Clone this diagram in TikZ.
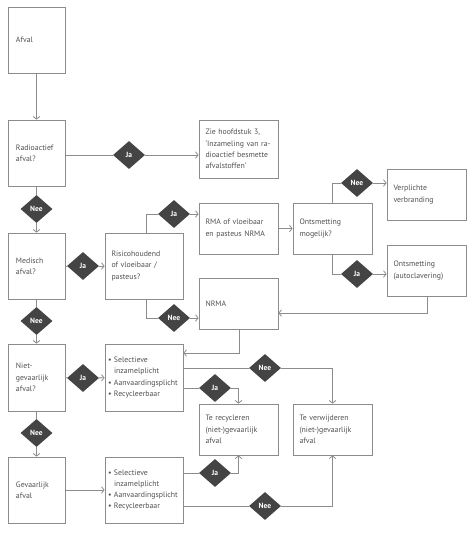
\documentclass[tikz,border=0pt]{standalone}
\usepackage{fontspec}
\setmainfont{PT Sans}
\usetikzlibrary{arrows.meta,shapes.geometric,calc}
\definecolor{txt}{HTML}{505050}
\definecolor{ln}{HTML}{8C8C8C}
\definecolor{dia}{HTML}{444444}
\tikzset{
  box/.style={draw=ln, line width=0.8pt, rectangle, inner xsep=8pt, inner ysep=0pt,
    align=left, text=txt, font=\fontsize{7.8}{11.3}\selectfont, anchor=center},
  sbox/.style={box, minimum width=57pt, text width=41pt},
  wbox/.style={box, minimum width=79pt, text width=66pt, inner xsep=6.5pt},
  lbox/.style={box, minimum width=78pt, text width=72pt, inner xsep=3pt},
  dec/.style={diamond, fill=dia, draw=none, minimum width=32pt, minimum height=28pt,
    inner sep=0pt, text=white, font=\fontsize{7.5}{9}\selectfont\bfseries},
  conn/.style={draw=ln, line width=0.8pt},
  arr/.style={conn, -{Straight Barb[length=2.6pt,width=6.5pt,line width=0.8pt]}},
}
\newcommand{\bl}{\makebox[6pt][l]{•}}
\begin{document}
\begin{tikzpicture}[x=1pt,y=-1pt]
\useasboundingbox (0,0) rectangle (474,533);
% boxes
\node[sbox, minimum height=66pt] (afval) at (36.5,40) {Afval};
\node[sbox, minimum height=66pt] (radio) at (36.5,153) {Radioactief\\afval?};
\node[wbox, minimum height=58pt] (zie) at (238.5,149) {Zie hoofdstuk 3,\\‘Inzameling van ra-\\dioactief besmette\\afvalstoffen’};
\node[sbox, minimum height=66pt] (med) at (36.5,266) {Medisch\\afval?};
\node[wbox, minimum width=78pt, text width=65pt, minimum height=66pt] (risico) at (144,266) {Risicohoudend\\of vloeibaar /\\pasteus?};
\node[wbox, minimum height=51pt] (rma) at (238.5,228.5) {RMA of vloeibaar\\en pasteus NRMA};
\node[wbox, minimum height=51pt] (ont) at (332.5,228.5) {Ontsmetting\\mogelijk?};
\node[wbox, minimum height=51pt] (verpl) at (426.5,194.5) {Verplichte\\verbranding};
\node[wbox, minimum height=51pt] (auto) at (426.5,270.5) {Ontsmetting\\(autoclavering)};
\node[wbox, minimum height=51pt] (nrma) at (238.5,303.5) {NRMA};
\node[sbox, minimum height=67pt] (niet) at (36.5,377.5) {Niet-\\gevaarlijk\\afval?};
\node[lbox, minimum height=67pt] (sel1) at (144,377.5) {\bl Selectieve\\\hspace*{6pt}inzamelplicht\\\bl Aanvaardingsplicht\\\bl Recycleerbaar};
\node[wbox, minimum height=51pt] (recyc) at (238.5,429.5) {Te recycleren\\(niet-)gevaarlijk\\afval};
\node[wbox, minimum height=51pt] (verw) at (332.5,429.5) {Te verwijderen\\(niet-)gevaarlijk\\afval};
\node[sbox, minimum height=66pt] (gev) at (36.5,490) {Gevaarlijk\\afval};
\node[lbox, minimum height=66pt] (sel2) at (144,490) {\bl Selectieve\\\hspace*{6pt}inzamelplicht\\\bl Aanvaardingsplicht\\\bl Recycleerbaar};
% decisions
\node[dec] (d1) at (129,155) {Ja};
\node[dec] (d2) at (36.5,209) {Nee};
\node[dec] (d3) at (83,266) {Ja};
\node[dec] (d4) at (174,214) {Ja};
\node[dec] (d5) at (174,318) {Nee};
\node[dec] (d6) at (357,183) {Nee};
\node[dec] (d7) at (357,274) {Ja};
\node[dec] (d8) at (36.5,321) {Nee};
\node[dec] (d14) at (83,378) {Ja};
\node[dec] (d9) at (265,368) {Nee};
\node[dec] (d10) at (215,388) {Ja};
\node[dec] (d11) at (36.5,433) {Nee};
\node[dec] (d12) at (215,473) {Ja};
\node[dec] (d13) at (265,506) {Nee};
% connectors
\draw[arr] (afval) -- (radio);
\draw[conn] (radio.east |- d1) -- (d1);
\draw[arr] (d1) -- (zie.west |- d1);
\draw[conn] (radio) -- (d2);
\draw[arr] (d2) -- (med);
\draw[conn] (med) -- (d3);
\draw[arr] (d3) -- (risico);
\draw[conn] ($(risico.north)+(2,0)$) |- (d4);
\draw[arr] (d4) -- (rma.west |- d4);
\draw[conn] ($(risico.south)+(2,0)$) |- (d5);
\draw[arr] (d5) -- (nrma.west |- d5);
\draw[arr] (rma.east) -- (ont.west);
\draw[conn] (ont.north) |- (d6);
\draw[arr] (d6) -- (verpl.west |- d6);
\draw[conn] (ont.south) |- (d7);
\draw[arr] (d7) -- (auto.west |- d7);
\coordinate (c1) at (427,313);
\draw[arr] (auto.south -| c1) -- (c1) -- (nrma.east |- c1);
\draw[conn] (med) -- (d8);
\draw[arr] (d8) -- (niet);
\draw[conn] (niet) -- (d11);
\draw[arr] (d11) -- (gev);
\draw[conn] (niet) -- (d14);
\draw[arr] (d14) -- (sel1);
\coordinate (c2) at (239,353);
\draw[arr] (nrma.south -| c2) -- (c2) -- (sel1.east |- c2);
\draw[conn] (sel1.east |- d9) -- (d9);
\draw[arr] (d9) -| (verw.north);
\draw[conn] (sel1.east |- d10) -- (d10);
\draw[arr] (d10) -| (recyc.north);
\draw[arr] (gev) -- (sel2);
\draw[conn] (sel2.east |- d12) -- (d12);
\draw[arr] (d12) -| (recyc.south);
\draw[conn] (sel2.east |- d13) -- (d13);
\draw[arr] (d13) -| (verw.south);
\end{tikzpicture}
\end{document}
